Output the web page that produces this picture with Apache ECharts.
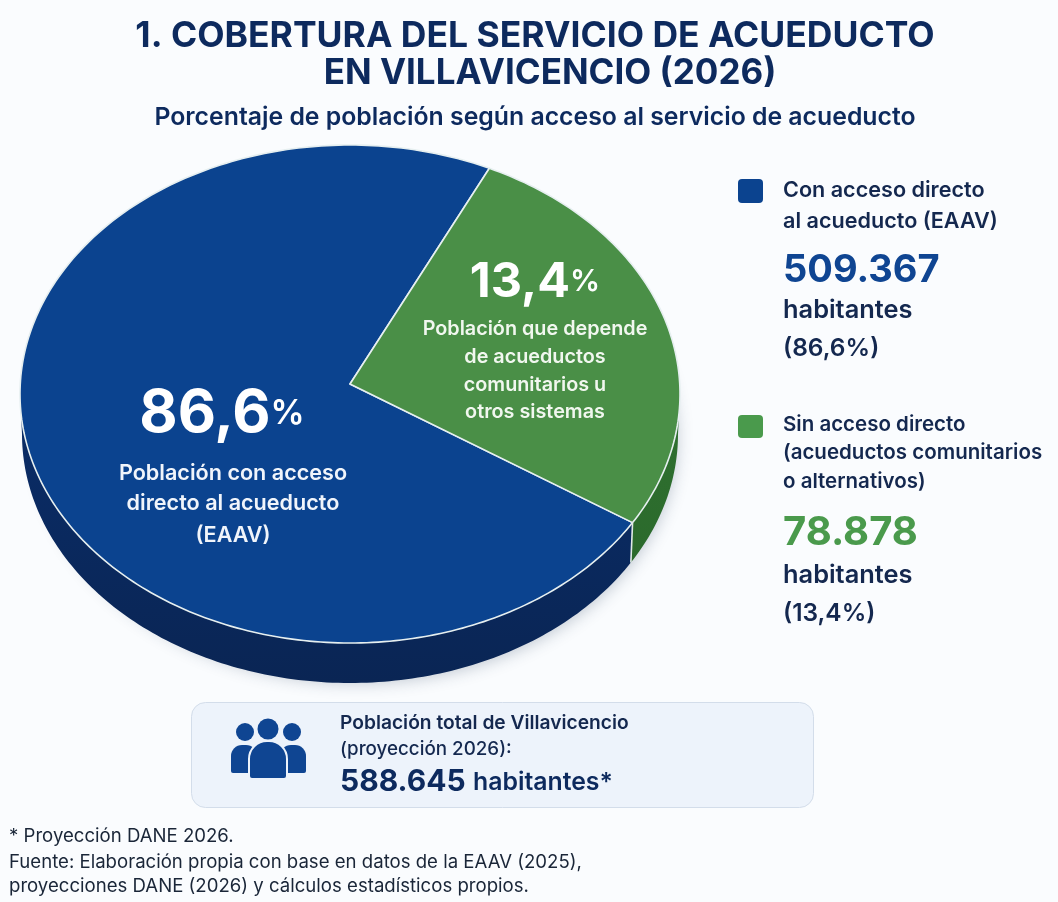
<!DOCTYPE html>
<html><head><meta charset="utf-8">
<style>html,body{margin:0;padding:0;background:#fafcfe}#c{width:1058px;height:902px}</style>
<script src="https://cdn.jsdelivr.net/npm/echarts@6/dist/echarts.min.js"></script>
</head><body><div id="c"></div>
<script>
// Values
const categories = ['Con acceso directo', 'Sin acceso directo'];
const sharePct = ['86,6', '13,4'];          // stated in the reference
const inhabitants = ['509.367', '78.878'];
const totalPop = '588.645';
// The reference draws the green wedge far larger than its stated 13,4 %.
// These are the proportions as drawn, not the stated shares.
const drawnPct = [73.3, 26.7];
const drawnStartDeg = 121.1; // clockwise from 12 o'clock

const titleLines = ['1. COBERTURA DEL SERVICIO DE ACUEDUCTO', 'EN VILLAVICENCIO (2026)'];
const subtitle = 'Porcentaje de población según acceso al servicio de acueducto';
const blueLabel = ['Población con acceso', 'directo al acueducto', '(EAAV)'];
const greenLabel = ['Población que depende', 'de acueductos', 'comunitarios u', 'otros sistemas'];
const legendBlue = ['Con acceso directo', 'al acueducto (EAAV)'];
const legendGreen = ['Sin acceso directo', '(acueductos comunitarios', 'o alternativos)'];
const footer = ['* Proyección DANE 2026.', 'Fuente: Elaboración propia con base en datos de la EAAV (2025),', 'proyecciones DANE (2026) y cálculos estadísticos propios.'];

const FONT = 'Inter, "Noto Sans", sans-serif';
const NAVY = '#0d2a5e', BLUE = '#0b438f', GREEN = '#4a8f47', GREEN_T = '#4a9a4c', INK = '#14284f';
const P = {cx: 350, cy: 394, rx: 330, ry: 249, ax: 350, ay: 384, depth: 40, rxLow: 328};
const faces = [BLUE, GREEN];
const sideStops = [['#0a2d68', '#0a2554'], ['#2f7030', '#2b6a2c']];

const pt = (deg, rx, dy) => {
  const t = deg * Math.PI / 180;
  return [P.cx + rx * Math.sin(t), P.cy + dy - P.ry * Math.cos(t)];
};
const arc = (a, b, rx, dy) => {
  const out = [], n = Math.max(2, Math.ceil(Math.abs(b - a)));
  for (let i = 0; i <= n; i++) out.push(pt(a + (b - a) * i / n, rx, dy));
  return out;
};
function renderSlice(params, api) {
  const i = params.dataIndex;
  let start = drawnStartDeg;
  for (let k = 0; k < i; k++) start += drawnPct[k] * 3.6;
  const sweep = api.value(0) * 3.6;
  const a2 = i === 1 ? start % 360 : start, b2 = a2 + sweep;
  const children = [];
  const lo = Math.max(a2, 90), hi = Math.min(b2, 270);
  if (hi > lo) {
    children.push({type: 'polygon', shape: {points: arc(lo, hi, P.rx, 0).concat(arc(hi, lo, P.rxLow, P.depth))},
      style: {fill: new echarts.graphic.LinearGradient(0, 0, 0, 1, [{offset: 0, color: sideStops[i][0]}, {offset: 1, color: sideStops[i][1]}])}});
  }
  children.push({type: 'polygon', shape: {points: arc(a2, b2, P.rx, 0).concat([[P.ax, P.ay]])},
    style: {fill: faces[i], stroke: '#e6eff0', lineWidth: 1.6, lineJoin: 'round'}});
  if (i === 1) {
    const p = pt(b2, P.rx, 0), q = pt(b2, P.rxLow, P.depth);
    children.push({type: 'line', shape: {x1: p[0], y1: p[1], x2: q[0], y2: q[1]}, style: {stroke: '#dfe9e6', lineWidth: 1.6}});
  }
  return {type: 'group', children};
}

const T = (text, x, y, size, weight, fill, align) => ({type: 'text', x, y, z: 10,
  style: {text, fontFamily: FONT, fontSize: size, fontWeight: weight, fill, align: align || 'left', verticalAlign: 'middle'}});
const g = [];
g.push({type: 'ellipse', z: 0, shape: {cx: P.cx + 4, cy: P.cy + P.depth - 6, rx: P.rxLow - 8, ry: P.ry - 4},
  style: {fill: '#dfe6ee', shadowBlur: 16, shadowColor: 'rgba(40,60,90,.28)', shadowOffsetX: 3, shadowOffsetY: 10}});
g.push(T(titleLines[0], 535, 36, 35.5, 700, NAVY, 'center'));
g.push(T(titleLines[1], 550, 73, 35, 700, NAVY, 'center'));
g.push(T(subtitle, 535, 118, 24.8, 600, NAVY, 'center'));
// slice labels
const rich = (v, big, small) => ({type: 'text', x: v[1], y: v[2], z: 10, style: {
  text: '{a|' + v[0] + '}{b|%}', align: 'center', verticalAlign: 'middle',
  rich: {a: {fontFamily: FONT, fontSize: big, fontWeight: 700, fill: '#fff'}, b: {fontFamily: FONT, fontSize: small, fontWeight: 600, fill: '#fff'}}}});
g.push(rich([sharePct[0], 222, 414], 59, 34));
g.push(rich([sharePct[1], 535, 282], 48.5, 30));
blueLabel.forEach((s, i) => g.push(T(s, 233, [473, 503, 535][i], 21.6, 600, '#f1f5fb', 'center')));
greenLabel.forEach((s, i) => g.push(T(s, 535, [329, 357, 385, 412][i], 19.8, 600, '#f1f7ef', 'center')));
// legend
g.push({type: 'rect', z: 10, shape: {x: 738, y: 179, width: 25, height: 24, r: 4}, style: {fill: BLUE}});
g.push({type: 'rect', z: 10, shape: {x: 738, y: 415, width: 25, height: 23, r: 4}, style: {fill: GREEN_T}});
legendBlue.forEach((s, i) => g.push(T(s, 783, [190, 221][i], 21.6, 600, INK)));
g.push(T(inhabitants[0], 783, 271, 38, 700, '#0f4592'));
g.push(T('habitantes', 783, 310, 25.4, 600, INK));
g.push(T('(' + sharePct[0] + '%)', 783, 349, 24.5, 600, INK));
legendGreen.forEach((s, i) => g.push(T(s, 783, [425, 453, 482][i], 20.5, 600, INK)));
g.push(T(inhabitants[1], 783, 533, 40, 700, GREEN_T));
g.push(T('habitantes', 783, 575, 25.4, 600, INK));
g.push(T('(' + sharePct[1] + '%)', 783, 614, 24.5, 600, INK));
// total box
g.push({type: 'rect', z: 5, shape: {x: 191.5, y: 702.5, width: 622, height: 105, r: 14}, style: {fill: '#edf3fb', stroke: '#d3ddea', lineWidth: 1}});
const ICON = '#0f4592';
g.push({type: 'circle', z: 9, shape: {cx: 245, cy: 732, r: 9}, style: {fill: ICON}});
g.push({type: 'circle', z: 9, shape: {cx: 292, cy: 732, r: 9}, style: {fill: ICON}});
g.push({type: 'rect', z: 9, shape: {x: 231, y: 745, width: 26, height: 28, r: [11, 11, 2, 2]}, style: {fill: ICON}});
g.push({type: 'rect', z: 9, shape: {x: 280, y: 745, width: 26, height: 28, r: [11, 11, 2, 2]}, style: {fill: ICON}});
g.push({type: 'circle', z: 9, shape: {cx: 268, cy: 729, r: 10.5}, style: {fill: ICON}});
g.push({type: 'rect', z: 9, shape: {x: 249, y: 741, width: 38, height: 38, r: [18, 18, 3, 3]}, style: {fill: ICON, stroke: '#edf3fb', lineWidth: 2}});
g.push(T('Población total de Villavicencio', 340, 723, 19.2, 600, INK));
g.push(T('(proyección 2026):', 340, 749, 18.8, 500, INK));
g.push(T(totalPop, 340, 782, 30, 700, NAVY));
g.push(T('habitantes*', 473, 783, 24.8, 600, NAVY));
footer.forEach((s, i) => g.push(T(s, 9, [836, 862, 886][i], 18.6, 400, '#1a2638')));

const chart = echarts.init(document.getElementById('c'), null, {renderer: 'canvas'});
chart.setOption({
  backgroundColor: '#fafcfe',
  animation: false,
  graphic: g,
  series: [{type: 'custom', coordinateSystem: 'none', silent: true, z: 2, renderItem: renderSlice,
    data: categories.map((c, i) => ({name: c, value: [drawnPct[i]]}))}]
});
</script></body></html>
